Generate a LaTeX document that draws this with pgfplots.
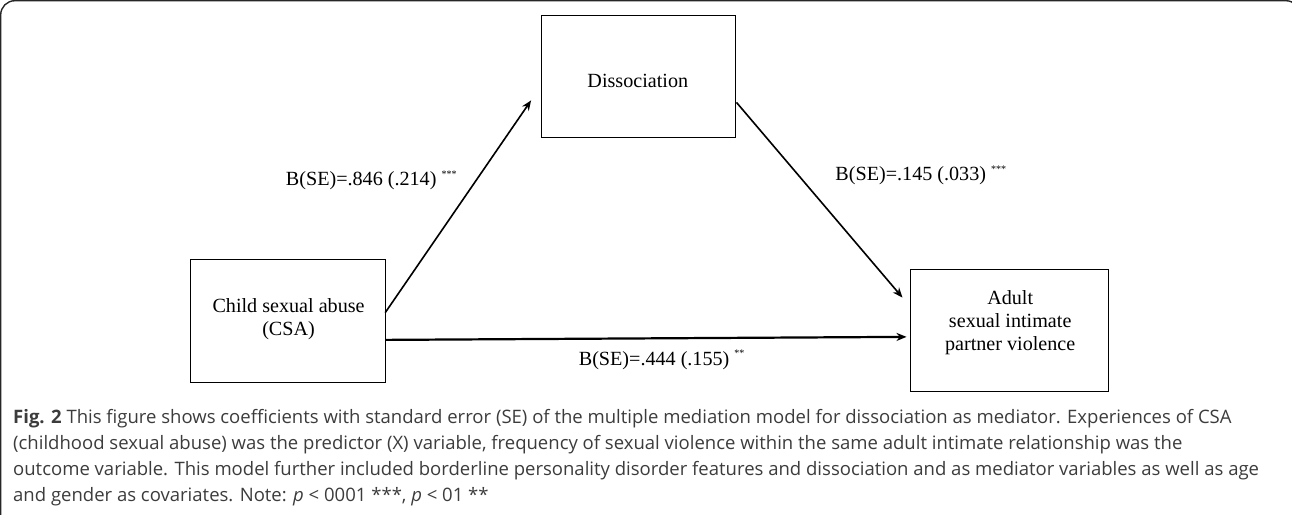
\documentclass[border=0pt]{standalone}
\usepackage{pgfplots}
\pgfplotsset{compat=1.18}
\usepackage{fontspec}
\setmainfont{Liberation Serif}
\newfontfamily\capfont{Open Sans}
\usetikzlibrary{arrows.meta}
\definecolor{captxt}{HTML}{3C3C3C}
\begin{document}
\begin{tikzpicture}
\begin{axis}[
  width=646pt, height=261pt, scale only axis,
  xmin=0, xmax=1292, ymin=0, ymax=522, y dir=reverse,
  hide axis, clip=true,
]
% frame
\addplot[draw=black!85, line width=0.7pt, rounded corners=7pt] coordinates {(9,530) (9,12) (1300,12) (1300,530)};
% boxes
\addplot[draw=black, line width=0.5pt] coordinates {(546,27) (739,27) (739,148) (546,148) (546,27)};
\addplot[draw=black, line width=0.5pt] coordinates {(198,269) (391,269) (391,391) (198,391) (198,269)};
\addplot[draw=black, line width=0.5pt] coordinates {(913,279) (1110,279) (1110,400) (913,400) (913,279)};
% arrows
\addplot[draw=black, line width=0.8pt, -{Stealth[length=5pt,width=4pt]}] coordinates {(391,322) (536,111)};
\addplot[draw=black, line width=0.8pt, -{Stealth[length=5pt,width=4pt]}] coordinates {(740,113) (905,307)};
\addplot[draw=black, line width=1.1pt, -{Stealth[length=5pt,width=4pt]}] coordinates {(391,349) (909,346)};
% box labels
\node[anchor=base, font=\fontsize{10}{11.5}\selectfont] at (axis cs:642,98) {Dissociation};
\node[anchor=base, font=\fontsize{10}{11.5}\selectfont] at (axis cs:295,322) {Child sexual abuse};
\node[anchor=base, font=\fontsize{10}{11.5}\selectfont] at (axis cs:295,345) {(CSA)};
\node[anchor=base, font=\fontsize{10}{11.5}\selectfont] at (axis cs:1012,314) {Adult};
\node[anchor=base, font=\fontsize{10}{11.5}\selectfont] at (axis cs:1012,337) {sexual intimate};
\node[anchor=base, font=\fontsize{10}{11.5}\selectfont] at (axis cs:1012,360) {partner violence};
% coefficients
\node[anchor=base west, inner sep=0pt, font=\fontsize{10}{11.5}\selectfont] at (axis cs:292,196) {B(SE)=.846 (.214) \raisebox{0.9ex}{\fontsize{5}{5}\selectfont ***}};
\node[anchor=base west, inner sep=0pt, font=\fontsize{10}{11.5}\selectfont] at (axis cs:838,191) {B(SE)=.145 (.033) \raisebox{0.9ex}{\fontsize{5}{5}\selectfont ***}};
\node[anchor=base west, inner sep=0pt, font=\fontsize{10}{11.5}\selectfont] at (axis cs:583,374) {B(SE)=.444 (.155) \raisebox{0.9ex}{\fontsize{5}{5}\selectfont **}};
% caption
\node[anchor=base west, inner sep=0pt, text=captxt, font=\capfont\fontsize{9.2}{12}\selectfont] at (axis cs:21,432) {\textbf{Fig. 2} This figure shows coefficients with standard error (SE) of the multiple mediation model for dissociation as mediator. Experiences of CSA};
\node[anchor=base west, inner sep=0pt, text=captxt, font=\capfont\fontsize{9.2}{12}\selectfont] at (axis cs:21,458) {(childhood sexual abuse) was the predictor (X) variable, frequency of sexual violence within the same adult intimate relationship was the};
\node[anchor=base west, inner sep=0pt, text=captxt, font=\capfont\fontsize{9.2}{12}\selectfont] at (axis cs:21,484) {outcome variable. This model further included borderline personality disorder features and dissociation and as mediator variables as well as age};
\node[anchor=base west, inner sep=0pt, text=captxt, font=\capfont\fontsize{9.2}{12}\selectfont] at (axis cs:21,510) {and gender as covariates. Note: \textit{p} < 0001 ***, \textit{p} < 01 **};
\end{axis}
\end{tikzpicture}
\end{document}
